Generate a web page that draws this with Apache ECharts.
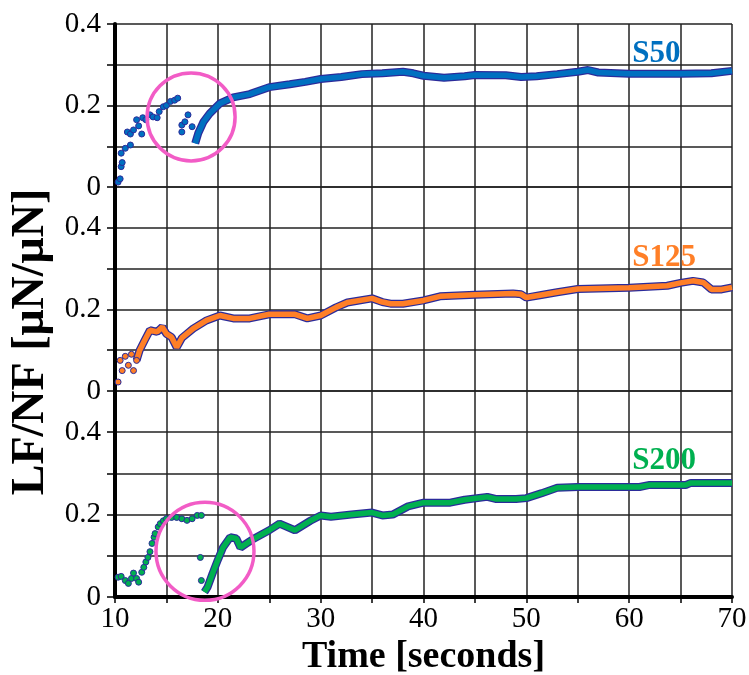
<!DOCTYPE html>
<html>
<head>
<meta charset="utf-8">
<script src="https://cdn.jsdelivr.net/npm/echarts@6/dist/echarts.min.js"></script>
<style>
  html, body { margin: 0; padding: 0; background: #fff; }
  #chart { width: 749px; height: 675px; }
</style>
</head>
<body>
<div id="chart"></div>
<script>
'use strict';
/* LF/NF over time, three stacked panels */

var xTicks = [10, 20, 30, 40, 50, 60, 70];
var yTicks = ['0', '0.2', '0.4'];
var seriesNames = ['S50', 'S125', 'S200'];
var seriesColors = ['#0070C0', '#FF7F27', '#00B050'];

// [time, LF/NF] — scattered start of each run
var s50Early = [[10.3,0.012],[10.5,0.02],[10.6,0.05],[10.7,0.06],[10.6,0.083],[11.0,0.095],[11.5,0.103],[11.2,0.135],
  [11.5,0.13],[11.8,0.14],[12.1,0.165],[12.3,0.15],[12.6,0.13],[12.7,0.17],[13.0,0.165],[13.4,0.177],[13.7,0.172],
  [14.1,0.17],[14.3,0.185],[14.7,0.197],[15.0,0.2],[15.4,0.21],[15.8,0.213],[16.1,0.218],[16.5,0.152],[16.5,0.135],
  [16.8,0.16],[17.1,0.177],[17.5,0.148]];
var s50Main = [[17.8,0.107],[18.1,0.132],[18.6,0.16],[19.2,0.18],[20.2,0.205],[21.5,0.22],[23.1,0.228],[25,0.245],
  [27,0.252],[28.5,0.258],[30,0.265],[32,0.27],[34,0.277],[36,0.279],[38,0.283],[39,0.279],[40,0.273],[42,0.268],
  [44,0.272],[45,0.275],[48,0.274],[49.5,0.27],[51,0.272],[53,0.277],[55,0.283],[56,0.287],[57,0.281],[60,0.278],
  [65,0.278],[68,0.279],[70,0.285]];

var s125Early = [[10.3,0.022],[10.5,0.075],[10.7,0.05],[11.0,0.085],[11.3,0.063],[11.6,0.09],[11.8,0.05],[12.1,0.075]];
var s125Main = [[12.1,0.075],[12.4,0.1],[12.9,0.125],[13.4,0.149],[14.1,0.145],[14.6,0.157],[15.0,0.14],[15.5,0.132],
  [16.0,0.107],[16.5,0.13],[17.6,0.153],[18.9,0.173],[20.2,0.185],[21.5,0.178],[23.1,0.178],[25,0.188],[27.5,0.188],
  [28.7,0.178],[30,0.185],[31.5,0.205],[32.6,0.217],[35,0.227],[36,0.218],[36.8,0.214],[38,0.214],[40,0.222],
  [41.6,0.232],[45,0.236],[48.7,0.239],[49.5,0.237],[50,0.229],[51.6,0.236],[53,0.242],[55,0.25],[60,0.253],
  [63.7,0.258],[65,0.265],[66.2,0.27],[67.2,0.266],[68,0.249],[69,0.249],[70,0.254]];

var s200Early = [[10.3,0.048],[10.6,0.05],[11.0,0.04],[11.3,0.033],[11.6,0.045],[11.8,0.058],[12.1,0.045],[12.3,0.036],
  [12.6,0.06],[12.8,0.072],[13.0,0.085],[13.2,0.096],[13.4,0.11],[13.6,0.13],[13.8,0.145],[13.9,0.154],[14.2,0.17],
  [14.4,0.178],[14.7,0.185],[15.0,0.19],[15.5,0.193],[16.0,0.193],[16.5,0.19],[17.0,0.186],[17.5,0.19],[18.0,0.198],
  [18.4,0.198],[18.3,0.096],[18.4,0.04]];
var s200Main = [[18.7,0.012],[19.0,0.024],[19.5,0.058],[20.0,0.09],[20.5,0.12],[21.2,0.145],[21.8,0.142],[22.2,0.12],
  [22.8,0.13],[23.4,0.14],[25,0.162],[26,0.178],[27.5,0.162],[29,0.185],[30,0.198],[31,0.195],[33,0.2],[35,0.205],
  [36,0.198],[37,0.2],[38.5,0.22],[40,0.229],[42.6,0.229],[44,0.236],[46.2,0.243],[47,0.238],[49,0.238],[50,0.24],
  [51.5,0.252],[53,0.265],[55,0.267],[61,0.267],[62,0.272],[65.5,0.272],[66,0.277],[70,0.277]];

var earlyData = [s50Early, s125Early, s200Early];
var mainData = [s50Main, s125Main, s200Main];

var FONT = 'Liberation Serif';
var OUTLINE = '#2b2b9a';
var GRID_LINE = { show: true, lineStyle: { color: '#222', width: 1.5 } };

var chart = echarts.init(document.getElementById('chart'));

var grids = [
  { left: 115, right: 17, top: 24, height: 163, outerBoundsMode: 'none' },
  { left: 115, right: 17, top: 187, height: 204, outerBoundsMode: 'none' },
  { left: 115, right: 17, top: 391, height: 206, outerBoundsMode: 'none' }
];
var yMax = [0.4, 0.5, 0.5];

var xAxes = [], yAxes = [], series = [];
for (var i = 0; i < 3; i++) {
  var last = i === 2;
  xAxes.push({
    type: 'value', gridIndex: i, min: 10, max: 70, interval: 5,
    axisLine: { show: last, onZero: false, lineStyle: { color: '#000', width: 4 } },
    axisTick: { show: last, length: 6, lineStyle: { color: '#000', width: 1.5 } },
    axisLabel: {
      show: last, margin: 8, color: '#000', fontFamily: FONT, fontSize: 29,
      formatter: function(v) { return xTicks.indexOf(v) >= 0 ? String(v) : ''; }
    },
    splitLine: GRID_LINE,
    name: last ? 'Time [seconds]' : '',
    nameLocation: 'middle', nameGap: 41,
    nameTextStyle: { color: '#000', fontFamily: FONT, fontSize: 38, fontWeight: 'bold' }
  });
  yAxes.push({
    type: 'value', gridIndex: i, min: 0, max: yMax[i], interval: 0.1,
    axisLine: { show: true, onZero: false, lineStyle: { color: '#000', width: 4 } },
    axisTick: { show: true, length: 8, lineStyle: { color: '#000', width: 1.5 } },
    axisLabel: {
      margin: 14, color: '#000', fontFamily: FONT, fontSize: 29,
      formatter: function(v) {
        var k = Math.round(v * 10);
        return k % 2 === 0 && k <= 4 ? yTicks[k / 2] : '';
      }
    },
    splitLine: GRID_LINE
  });
  // navy rim under the coloured trace
  series.push({
    type: 'line', xAxisIndex: i, yAxisIndex: i, data: mainData[i], showSymbol: false,
    lineStyle: { color: OUTLINE, width: 8 }, silent: true, z: 3
  });
  series.push({
    name: seriesNames[i], type: 'line', xAxisIndex: i, yAxisIndex: i, data: mainData[i], showSymbol: false,
    lineStyle: { color: seriesColors[i], width: 5.5 }, z: 4
  });
  series.push({
    type: 'scatter', xAxisIndex: i, yAxisIndex: i, data: earlyData[i], symbolSize: 6,
    itemStyle: { color: seriesColors[i], borderColor: OUTLINE, borderWidth: 1, opacity: 1 }, z: 4
  });
}

chart.setOption({
  animation: false,
  backgroundColor: '#fff',
  grid: grids,
  xAxis: xAxes,
  yAxis: yAxes,
  series: series
});

// series names, y title and the two highlight circles
var labelPos = [[60.3, 0.327], [60.3, 0.326], [60.3, 0.33]];
var graphics = [];
for (var j = 0; j < 3; j++) {
  var p = chart.convertToPixel({ gridIndex: j }, labelPos[j]);
  graphics.push({
    type: 'text', x: p[0], y: p[1], z: 10,
    style: { text: seriesNames[j], fill: seriesColors[j], font: 'bold 31px "Liberation Serif"',
      textAlign: 'left', textVerticalAlign: 'middle' }
  });
}
graphics.push({
  type: 'text', x: 31, y: 342, rotation: Math.PI / 2, z: 10,
  style: { text: 'LF/NF [μN/μN]', fill: '#000', font: 'bold 46px "Liberation Serif"',
    textAlign: 'center', textVerticalAlign: 'middle' }
});
var c1 = chart.convertToPixel({ gridIndex: 0 }, [17.4, 0.172]);
var c2 = chart.convertToPixel({ gridIndex: 2 }, [18.75, 0.111]);
graphics.push({ type: 'circle', shape: { cx: c1[0], cy: c1[1], r: 44 }, z: 10,
  style: { fill: 'none', stroke: '#F25CC6', lineWidth: 3.5 } });
graphics.push({ type: 'circle', shape: { cx: c2[0], cy: c2[1], r: 49 }, z: 10,
  style: { fill: 'none', stroke: '#F25CC6', lineWidth: 3.5 } });

chart.setOption({ graphic: graphics });
</script>
</body>
</html>
